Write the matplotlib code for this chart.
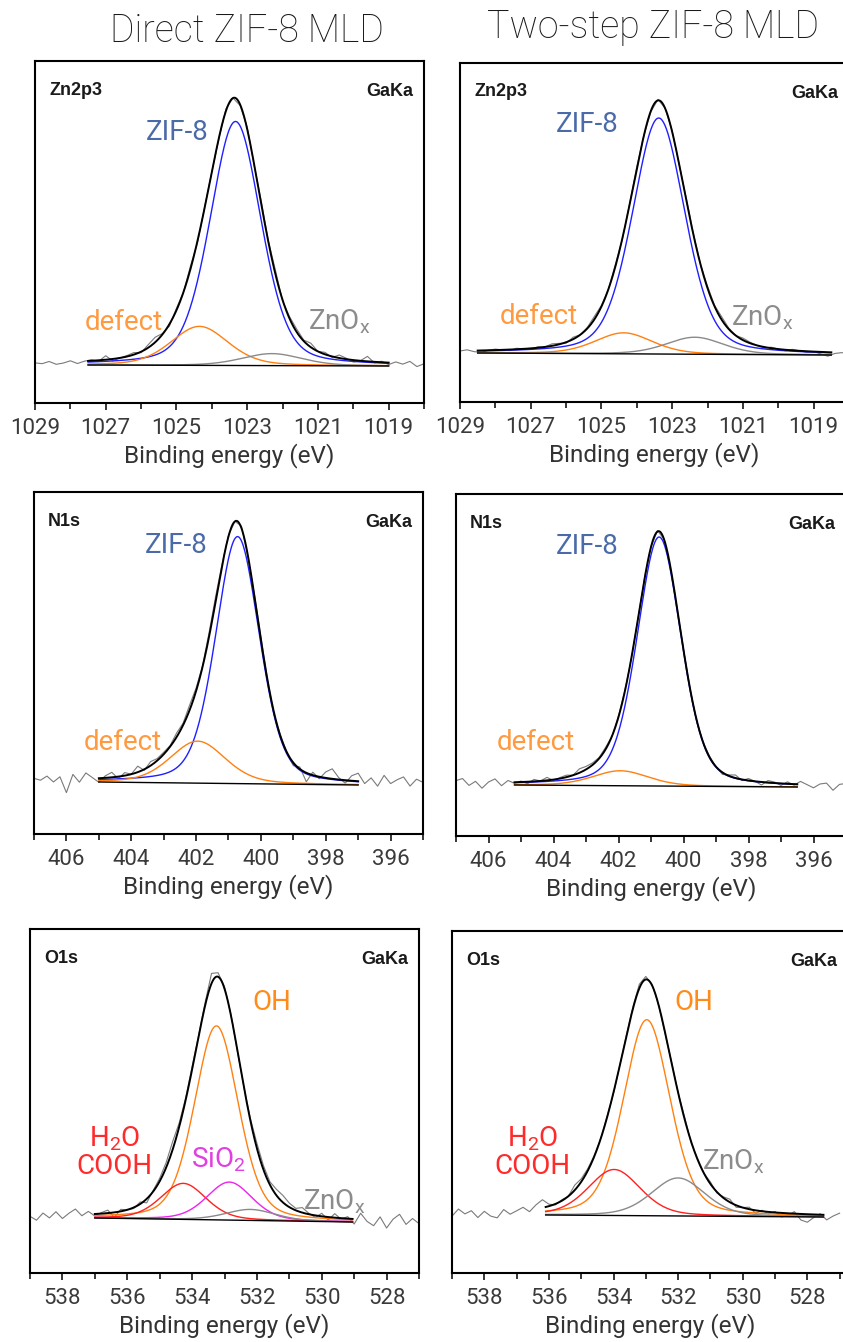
import numpy as np
import matplotlib
matplotlib.use("Agg")
import matplotlib.pyplot as plt
from matplotlib.ticker import MultipleLocator

plt.rcParams['font.family'] = ['Roboto', 'Liberation Sans', 'DejaVu Sans']
plt.rcParams['mathtext.default'] = 'regular'

# ---- fitted components (center eV, FWHM eV, height a.u.) and raw residuals ----
# Zn 2p3/2, direct MLD
zn_d_names = ['ZIF-8', 'defect', 'ZnOx']
zn_d_center = [1023.33, 1024.35, 1022.3]
zn_d_fwhm = [1.7, 1.9, 2.0]
zn_d_height = [244, 39, 12]
zn_d_fit = [1027.5, 1019.0]
zn_d_bg = [38, 37]
zn_d_resid = [0, -1, 1, -2, -1, 1, -2, 0, 1, -1,
              4, -2, 0, 1, 2, -1, 3, 5, 1, -2,
              2, 0, 3, -2, 1, 0, -1, 2, 0, -1,
              2, -1, 3, 1, 4, -1, 2, 3, 1, 4,
              0, 2, -1, 3, 1, -2, 0, 5, -1, 1,
              -2, 1, -1, 2, -3, 0]

# Zn 2p3/2, two-step MLD
zn_t_names = ['ZIF-8', 'defect', 'ZnOx']
zn_t_center = [1023.38, 1024.37, 1022.36]
zn_t_fwhm = [1.75, 1.9, 1.9]
zn_t_height = [236, 21, 17]
zn_t_fit = [1028.5, 1018.5]
zn_t_bg = [49, 47]
zn_t_resid = [0, 1, -1, -2, 0, 1, 0, -1, 1, 0,
              -1, 1, 0, 2, 1, -1, 2, 0, 1, 3,
              1, 0, 2, -1, 1, 2, 0, -1, 1, 0,
              1, 0, 2, 1, 0, 2, 1, 3, 1, 0,
              2, 1, 0, -1, 1, 0, -1, 1, 0, -1,
              0, -2, -4, -1, 0, -1]

# N 1s, direct MLD
n_d_names = ['ZIF-8', 'defect']
n_d_center = [400.72, 401.95]
n_d_fwhm = [1.6, 2.0]
n_d_height = [247, 42]
n_d_fit = [405.0, 397.0]
n_d_bg = [52, 49]
n_d_resid = [2, 0, 4, -2, 3, -13, 5, -3, 6, 1,
             -4, 2, 5, -2, 3, 0, 6, -1, 4, 2,
             2, 1, 4, 2, 5, 3, 1, 4, 5, 2,
             1, 0, 2, -1, 1, 2, 0, -2, 1, 0,
             -3, 2, -9, 3, -2, 6, 10, 2, -3, 5,
             8, -2, 4, -4, 7, -1, 3, 6, -3, 4,
             1]

# N 1s, two-step MLD
n_t_names = ['ZIF-8', 'defect']
n_t_center = [400.75, 401.94]
n_t_fwhm = [1.6, 2.0]
n_t_height = [249, 15]
n_t_fit = [405.2, 396.5]
n_t_bg = [51, 49]
n_t_resid = [3, 5, -2, 2, -5, 1, 4, -3, 2, -1,
             1, -2, 2, 0, 3, -1, 1, 2, 0, 4,
             3, 2, 1, 2, 0, 1, 1, -1, 0, 1,
             0, 1, 0, -1, 0, 1, 0, -1, 0, 1,
             0, -2, 1, 3, -1, 2, 0, -3, 2, 1,
             -2, 2, -1, 3, 0, -3, 1, 2, -5, 1,
             2]

# O 1s, direct MLD
o_d_names = ['OH', 'H2O/COOH', 'SiO2', 'ZnOx']
o_d_center = [533.25, 534.27, 532.85, 532.2]
o_d_fwhm = [1.6, 1.65, 1.65, 1.8]
o_d_height = [194, 36, 38, 11]
o_d_fit = [537.0, 529.05]
o_d_bg = [55, 51]
o_d_resid = [0, -4, 3, -2, 4, -3, 2, 6, -1, 3,
             -2, 1, 3, -5, 2, 0, -1, 2, -4, 1,
             3, 5, 8, 4, 2, 3, 1, 3, 10, 4,
             2, 1, -1, 0, 2, 5, 4, 3, 6, 7,
             4, 2, 5, 1, -2, 3, -3, 4, -1, 2,
             -5, 6, -2, -6, 3, -8, 1, 6, -4, 2,
             -3]

# O 1s, two-step MLD
o_t_names = ['OH', 'H2O/COOH', 'ZnOx']
o_t_center = [532.97, 533.98, 532.0]
o_t_fwhm = [1.7, 1.9, 1.95]
o_t_height = [196, 46, 38]
o_t_fit = [536.1, 527.5]
o_t_bg = [58, 56]
o_t_resid = [-3, 4, -1, 2, -5, 1, -4, -6, 2, -3,
             0, 3, -2, 4, 8, 2, -1, 1, 0, 5,
             3, 2, 1, 0, 1, -1, 0, 1, 2, 4,
             3, 1, 0, -1, 1, 0, 2, -1, 1, 0,
             2, -1, 1, 3, -2, 0, 2, -3, 1, -2,
             1, -4, -2, 2, -6, -8, -3, 1, -5, -1,
             2]

line_colors = {'ZIF-8': '#1f1fff', 'defect': '#ff8010', 'ZnOx': '#8a8a8a',
               'OH': '#ff8010', 'H2O/COOH': '#ff2020', 'SiO2': '#ee22ee'}


def gl(x, center, fwhm, height, mix=0.3):
    # Gaussian-Lorentzian sum line shape
    u = (x - center) / fwhm
    return height * ((1 - mix) * np.exp(-4 * np.log(2) * u ** 2) + mix / (1 + 4 * u ** 2))


def draw_panel(ax, names, centers, fwhms, heights, fit, bg, resid, xlim, ymax, core,
               tick_offset=0):
    e_raw = np.linspace(xlim[0], xlim[0] - 0.2 * (len(resid) - 1), len(resid))
    bg_raw = np.interp(e_raw, fit[::-1], bg[::-1])
    env_raw = bg_raw + sum(gl(e_raw, c, w, h) for c, w, h in zip(centers, fwhms, heights))
    ax.plot(e_raw, env_raw + np.array(resid), color='#7a7a7a', lw=0.8, zorder=2)

    e = np.linspace(fit[0], fit[1], 500)
    base = np.interp(e, fit[::-1], bg[::-1])
    comps = [gl(e, c, w, h) for c, w, h in zip(centers, fwhms, heights)]
    for name, comp in zip(names, comps):
        ax.plot(e, base + comp, color=line_colors[name], lw=1.0, zorder=3)
    ax.plot(e, base, color='black', lw=1.0, zorder=3)
    ax.plot(e, base + sum(comps), color='black', lw=1.4, zorder=4)

    ax.set_xlim(xlim)
    ax.set_ylim(0, ymax)
    ax.set_yticks([])
    ax.xaxis.set_major_locator(MultipleLocator(2, offset=tick_offset))
    ax.xaxis.set_minor_locator(MultipleLocator(1))
    ax.tick_params(axis='x', which='major', direction='out', length=5, width=1.1,
                   pad=6, labelsize=16, labelcolor='#3a3a3a')
    ax.tick_params(axis='x', which='minor', direction='out', length=4, width=1.1)
    for sp in ax.spines.values():
        sp.set_linewidth(1.5)
    ax.set_xlabel('Binding energy (eV)', fontsize=17.5, color='#333333', labelpad=3)
    ax.text(0.036, 0.915, core, transform=ax.transAxes, fontsize=13,
            fontweight='bold', ha='left', va='center', color='#1a1a1a',
            family=['Liberation Sans'])
    ax.text(0.972, 0.91, 'GaKa', transform=ax.transAxes, fontsize=13,
            fontweight='bold', ha='right', va='center', color='#1a1a1a',
            family=['Liberation Sans'])


W, H = 843, 1342
fig = plt.figure(figsize=(W / 100, H / 100), dpi=100)


def add_axes(x0, y_top, w, h):
    return fig.add_axes([x0 / W, 1 - (y_top + h) / H, w / W, h / H])


ax1 = add_axes(35, 61, 389, 342)
ax2 = add_axes(460, 63, 389, 339)
ax3 = add_axes(34, 492, 389, 342)
ax4 = add_axes(456, 494, 390, 342)
ax5 = add_axes(30, 929, 389, 344)
ax6 = add_axes(452, 931, 396, 342)

draw_panel(ax1, zn_d_names, zn_d_center, zn_d_fwhm, zn_d_height, zn_d_fit, zn_d_bg,
           zn_d_resid, (1029, 1018), 342, 'Zn2p3', tick_offset=1)
draw_panel(ax2, zn_t_names, zn_t_center, zn_t_fwhm, zn_t_height, zn_t_fit, zn_t_bg,
           zn_t_resid, (1029, 1018), 339, 'Zn2p3', tick_offset=1)
draw_panel(ax3, n_d_names, n_d_center, n_d_fwhm, n_d_height, n_d_fit, n_d_bg,
           n_d_resid, (407, 395), 342, 'N1s')
draw_panel(ax4, n_t_names, n_t_center, n_t_fwhm, n_t_height, n_t_fit, n_t_bg,
           n_t_resid, (407, 395), 342, 'N1s')
draw_panel(ax5, o_d_names, o_d_center, o_d_fwhm, o_d_height, o_d_fit, o_d_bg,
           o_d_resid, (539, 527), 344, 'O1s')
draw_panel(ax6, o_t_names, o_t_center, o_t_fwhm, o_t_height, o_t_fit, o_t_bg,
           o_t_resid, (539, 526.74), 342, 'O1s')

# peak assignments
lab = dict(fontsize=20, ha='center', va='center')
zif_c, def_c, zno_c = '#4a6aa8', '#ff9a40', '#8c8c8c'
ax1.text(1024.98, 271, 'ZIF-8', color=zif_c, **lab)
ax1.text(1026.5, 81, 'defect', color=def_c, **lab)
ax1.text(1020.4, 81, 'ZnO$_x$', color=zno_c, **lab)
ax2.text(1025.4, 277, 'ZIF-8', color=zif_c, **lab)
ax2.text(1026.77, 85, 'defect', color=def_c, **lab)
ax2.text(1020.44, 84, 'ZnO$_x$', color=zno_c, **lab)
ax3.text(402.6, 289, 'ZIF-8', color=zif_c, **lab)
ax3.text(404.27, 92, 'defect', color=def_c, **lab)
ax4.text(402.95, 289, 'ZIF-8', color=zif_c, **lab)
ax4.text(404.55, 94, 'defect', color=def_c, **lab)
ax5.text(531.55, 271, 'OH', color='#ff8c1a', **lab)
ax5.text(536.4, 121, 'H$_2$O\nCOOH', color='#ff2a2a', linespacing=1.0, **lab)
ax5.text(533.2, 113, 'SiO$_2$', color='#e040e0', **lab)
ax5.text(529.6, 71, 'ZnO$_x$', color=zno_c, **lab)
ax6.text(531.5, 271, 'OH', color='#ff8c1a', **lab)
ax6.text(536.5, 121, 'H$_2$O\nCOOH', color='#ff2a2a', linespacing=1.0, **lab)
ax6.text(530.3, 111, 'ZnO$_x$', color=zno_c, **lab)

fig.text(247 / W, 1 - 31 / H, 'Direct ZIF-8 MLD', fontsize=27, ha='center', va='center',
         color='#1a1a1a', fontweight='light')
fig.text(653 / W, 1 - 27 / H, 'Two-step ZIF-8 MLD', fontsize=27, ha='center', va='center',
         color='#1a1a1a', fontweight='light')

fig.savefig('out.png', dpi=100)
